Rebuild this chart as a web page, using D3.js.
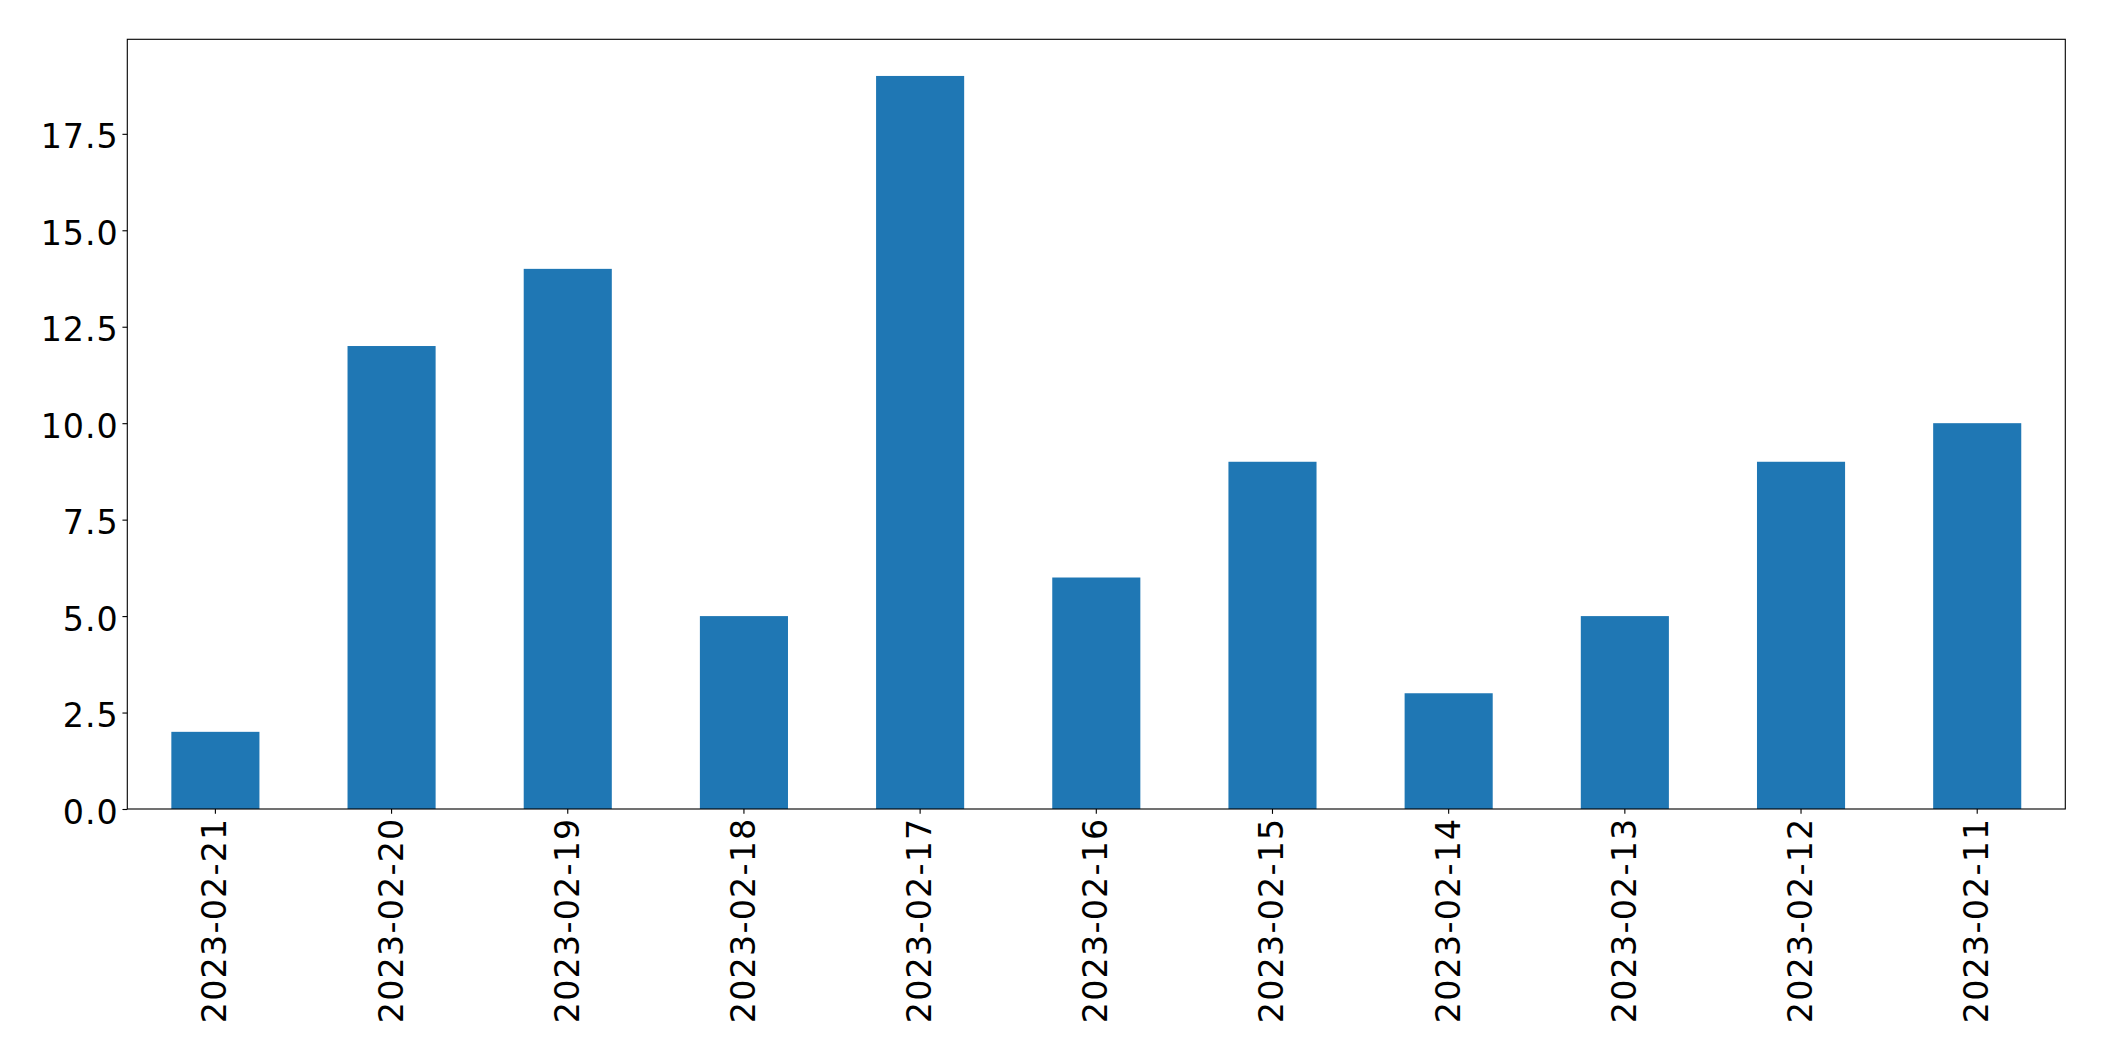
<!DOCTYPE html>
<html>
<head>
<meta charset="utf-8">
<script src="https://cdn.jsdelivr.net/npm/d3@7"></script>
<style>
  html, body { margin: 0; padding: 0; background: #fff; }
  svg { display: block; }
  text { font-family: "DejaVu Sans", sans-serif; fill: #000; }
</style>
</head>
<body>
<svg id="chart" width="2104" height="1061"></svg>
<script>
const categories = ["2023-02-21","2023-02-20","2023-02-19","2023-02-18","2023-02-17","2023-02-16","2023-02-15","2023-02-14","2023-02-13","2023-02-12","2023-02-11"];
const values = [2, 12, 14, 5, 19, 6, 9, 3, 5, 9, 10];
const yTicks = [0, 2.5, 5, 7.5, 10, 12.5, 15, 17.5];

const W = 2104, H = 1061;
const margin = {left: 127.3, top: 39.3, right: 38.7, bottom: 252};
const iw = W - margin.left - margin.right;
const ih = H - margin.top - margin.bottom;
const fontSize = 33.33;
const tickLen = 4.86, pad = 4.86;

const svg = d3.select("#chart");
const g = svg.append("g").attr("transform", `translate(${margin.left},${margin.top})`);

const x = d3.scaleBand().domain(categories).range([0, iw]).paddingInner(0.5).paddingOuter(0.25);
const y = d3.scaleLinear().domain([0, d3.max(values) * 1.05]).range([ih, 0]);

g.selectAll("rect.bar").data(values).enter().append("rect")
  .attr("class", "bar")
  .attr("x", (d, i) => x(categories[i]))
  .attr("width", x.bandwidth())
  .attr("y", d => y(d))
  .attr("height", d => ih - y(d))
  .attr("fill", "#1f77b4");

// y axis
const yAxis = d3.axisLeft(y).tickValues(yTicks).tickFormat(d3.format(".1f")).tickSize(tickLen).tickPadding(pad);
const yg = g.append("g").call(yAxis);
yg.select(".domain").remove();
yg.selectAll(".tick line").attr("stroke", "#000").attr("stroke-width", 1.11);
yg.selectAll(".tick text").attr("font-size", fontSize).attr("dy", "0.42em")
  .style("font-family", "DejaVu Sans").style("letter-spacing", "0.9px")
  .attr("x", -(tickLen + pad) + 0.9);

// x axis
const xAxis = d3.axisBottom(x).tickSize(tickLen).tickPadding(pad);
const xg = g.append("g").attr("transform", `translate(0,${ih})`).call(xAxis);
xg.select(".domain").remove();
xg.selectAll(".tick line").attr("stroke", "#000").attr("stroke-width", 1.11);
xg.selectAll(".tick text")
  .attr("font-size", fontSize)
  .style("font-family", "DejaVu Sans")
  .style("letter-spacing", "1.2px")
  .attr("text-anchor", "end")
  .attr("y", 0).attr("x", 1.2)
  .attr("dy", "0.33em")
  .attr("transform", `translate(0,${tickLen + pad}) rotate(-90)`);

// frame
g.append("rect").attr("x", 0).attr("y", 0).attr("width", iw).attr("height", ih)
  .attr("fill", "none").attr("stroke", "#000").attr("stroke-width", 1.11);
</script>
</body>
</html>
